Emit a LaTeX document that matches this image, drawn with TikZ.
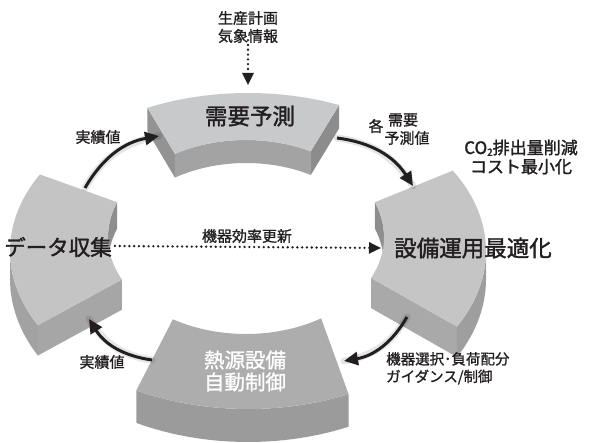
\documentclass[tikz,border=0pt]{standalone}
\usepackage{fontspec}
\newfontfamily\jp[FakeBold=1.2]{Noto Sans CJK JP}
\newfontfamily\jpb[FakeBold=1.6]{Noto Sans CJK JP}
\usetikzlibrary{arrows.meta}
\definecolor{ink}{HTML}{231F20}
\definecolor{tTop}{HTML}{C8C9CB}
\definecolor{tSide}{HTML}{A3A3A4}
\definecolor{tEndL}{HTML}{939394}
\definecolor{tEndR}{HTML}{8C8C8D}
\definecolor{lTop}{HTML}{C4C4C4}
\definecolor{lOut}{HTML}{A2A2A2}
\definecolor{lIn}{HTML}{8E8E8E}
\definecolor{lEnd}{HTML}{A6A6A6}
\definecolor{rTop}{HTML}{C5C5C5}
\definecolor{rOut}{HTML}{9E9E9E}
\definecolor{rIn}{HTML}{8E8E8E}
\definecolor{rEnd}{HTML}{A9A9A9}
\definecolor{bTop}{HTML}{ADADAD}
\definecolor{bFront}{HTML}{9B9B9B}
\begin{document}
\begin{tikzpicture}[x=1pt,y=-1pt,
  declare function={ox(\t)=248+238*cos(\t); oy(\t)=251-158*sin(\t);
                    ix(\t)=246+138*cos(\t); iy(\t)=237-97*sin(\t);
                    th(\t)=28-5*sin(\t);},
  lbl/.style={font=\jp\fontsize{15}{18}\selectfont, text=ink, inner sep=0pt, align=center},
  big/.style={font=\jpb\fontsize{22.5}{25}\selectfont, text=ink, inner sep=0pt},
  arr/.style={line width=3pt, draw=ink, -{Triangle[length=14pt,width=13pt]}},
  dotarr/.style={draw=ink, line width=2.6pt, line cap=round, dash pattern=on 0pt off 4.8pt,
                 -{Triangle[length=12pt,width=11pt]}},
  shadowln/.style={line width=7pt, draw=black, opacity=0.10, line cap=round},
  pl/.style={samples=30, variable=\t}
]
\useasboundingbox (0,0) rectangle (592,443);

% ---------- top segment (需要予測) ----------
\fill[tEndL] ({ox(115)},{oy(115)}) -- ({ix(121)},{iy(121)}) -- ({ix(121)},{iy(121)+th(121)}) -- ({ox(115)},{oy(115)+th(115)}) -- cycle;
\fill[tEndR] ({ox(67.5)},{oy(67.5)}) -- ({ix(62)},{iy(62)}) -- ({ix(62)},{iy(62)+th(62)}) -- ({ox(67.5)},{oy(67.5)+th(67.5)}) -- cycle;
\fill[tSide] plot[pl,domain=62:121] ({ix(\t)},{iy(\t)}) -- plot[pl,domain=121:62] ({ix(\t)},{iy(\t)+th(\t)}) -- cycle;
\fill[tTop] plot[pl,domain=115:67.5] ({ox(\t)},{oy(\t)}) -- plot[pl,domain=62:121] ({ix(\t)},{iy(\t)}) -- cycle;

% ---------- left segment (データ収集) ----------
\fill[lEnd] ({ox(208)},{oy(208)}) -- ({ix(206)},{iy(206)}) -- ({ix(206)},{iy(206)+th(206)}) -- ({ox(208)},{oy(208)+th(208)}) -- cycle;
\fill[lOut] plot[pl,domain=180:208] ({ox(\t)},{oy(\t)}) -- plot[pl,domain=208:180] ({ox(\t)},{oy(\t)+th(\t)}) -- cycle;
\fill[lIn] plot[pl,domain=159:180] ({ix(\t)},{iy(\t)}) -- plot[pl,domain=180:159] ({ix(\t)},{iy(\t)+th(\t)}) -- cycle;
\fill[lTop] plot[pl,domain=151:208] ({ox(\t)},{oy(\t)}) -- plot[pl,domain=206:159] ({ix(\t)},{iy(\t)}) -- cycle;

% ---------- right segment (設備運用最適化) ----------
\fill[rEnd] ({ox(-28.6)},{oy(-28.6)}) -- ({ix(-25)},{iy(-25)}) -- ({ix(-25)},{iy(-25)+th(-25)}) -- ({ox(-28.6)},{oy(-28.6)+th(-28.6)}) -- cycle;
\fill[rOut] plot[pl,domain=-28.6:0] ({ox(\t)},{oy(\t)}) -- plot[pl,domain=0:-28.6] ({ox(\t)},{oy(\t)+th(\t)}) -- cycle;
\fill[rIn] plot[pl,domain=0:21] ({ix(\t)},{iy(\t)}) -- plot[pl,domain=21:0] ({ix(\t)},{iy(\t)+th(\t)}) -- cycle;
\fill[rTop] plot[pl,domain=-28.6:30.6] ({ox(\t)},{oy(\t)}) -- plot[pl,domain=21:-25] ({ix(\t)},{iy(\t)}) -- cycle;

% ---------- bottom segment (熱源設備自動制御) ----------
\fill[bFront] plot[pl,domain=242:295] ({ox(\t)},{oy(\t)}) -- plot[pl,domain=295:242] ({ox(\t)},{oy(\t)+th(\t)}) -- cycle;
\fill[bTop] plot[pl,domain=242:295] ({ox(\t)},{oy(\t)}) -- plot[pl,domain=303:238] ({ix(\t)},{iy(\t)}) -- cycle;

% ---------- texts ----------
\node[lbl] (plan) at (248,18) {生産計画};
\node[lbl] (weather) at (248,36) {気象情報};
\node[big] (demand) at (250,116) {需要予測};
\coordinate (demandtop) at (248,85);
\node[big, font=\jpb\fontsize{21.5}{24}\selectfont] (data) at (58,247) {データ収集};
\node[big] (opt) at (473,248) {設備運用最適化};
\node[font=\jp\fontsize{20.5}{23}\selectfont, text=white, inner sep=0pt, align=center] (heat) at (245,371) {熱源設備\\[-1pt]自動制御};
\node[lbl] (eff) at (247,236) {機器効率更新};
\node[lbl] (act1) at (98,137) {実績値};
\node[lbl] (act2) at (102,362) {実績値};
\node[lbl] (kaku) at (376,126) {各};
\node[lbl] (juyo) at (403,120) {需要};
\node[lbl] (yosoku) at (407,138) {予測値};
\node[font=\jpb\fontsize{17}{19}\selectfont, text=ink, inner sep=0pt, align=center] (co2) at (521,157)
  {CO\raisebox{-0.2ex}{\fontsize{10}{10}\selectfont 2}排出量削減\\コスト最小化};
\node[font=\jp\fontsize{14.5}{17.5}\selectfont, text=ink, inner sep=0pt, align=left, anchor=north west] (guide) at (386,352)
  {機器選択･負荷配分\\ガイダンス/制御};

% ---------- connectors ----------
\coordinate (ulS) at (85,188);
\coordinate (ulE) at (159,136);
\coordinate (urS) at (337,138);
\coordinate (urE) at (413,186);
\coordinate (lrS) at (407,317);
\coordinate (lrE) at (344,361);
\coordinate (llS) at (152,360);
\coordinate (llE) at (89,319);
\coordinate (optW) at (381,248);

\begin{scope}[shift={(3,5)}]
\draw[shadowln] (ulS) to[bend left=25] (ulE);
\draw[shadowln] (urS) to[bend left=25] (urE);
\draw[shadowln] (lrS) to[bend left=25] (lrE);
\draw[shadowln] (llS) to[bend left=25] (llE);
\end{scope}

\draw[arr] (ulS) to[bend left=25] (ulE);
\draw[arr] (urS) to[bend left=25] (urE);
\draw[arr] (lrS) to[bend left=25] (lrE);
\draw[arr] (llS) to[bend left=25] (llE);

\draw[dotarr] ([yshift=3pt]weather.south) -- (demandtop);
\draw[dotarr] ([xshift=3pt,yshift=1pt]data.east) -- (optW);
\end{tikzpicture}
\end{document}
